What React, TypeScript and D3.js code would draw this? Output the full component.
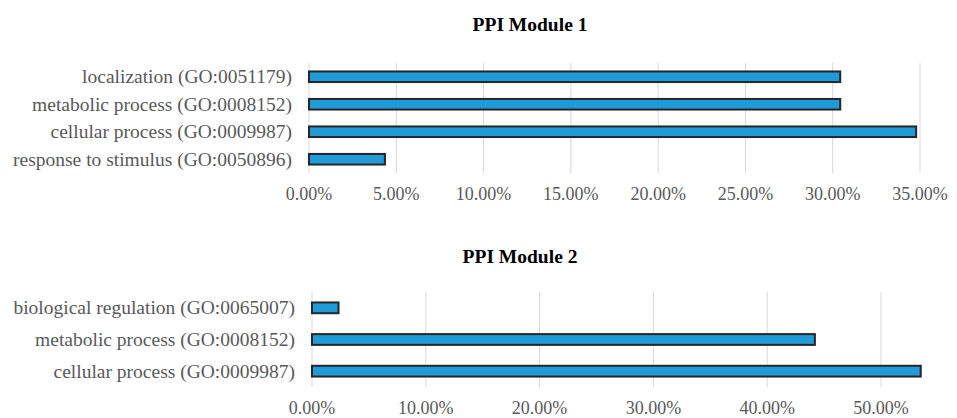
import React from "react";
import * as d3 from "d3";

// PPI Module 1
const cats1 = [
    "localization (GO:0051179)",
    "metabolic process (GO:0008152)",
    "cellular process (GO:0009987)",
    "response to stimulus (GO:0050896)",
];
const vals1 = [0.3043, 0.3043, 0.3478, 0.0435];
const ticks1 = [0, 0.05, 0.1, 0.15, 0.2, 0.25, 0.3, 0.35];

// PPI Module 2
const cats2 = [
    "biological regulation (GO:0065007)",
    "metabolic process (GO:0008152)",
    "cellular process (GO:0009987)",
];
const vals2 = [0.0233, 0.4419, 0.5349];
const ticks2 = [0, 0.1, 0.2, 0.3, 0.4, 0.5];

const width = 957;
const height = 418;
const font = "'Liberation Serif', 'Times New Roman', serif";
const labelColor = "#595959";

type PanelProps = {
    title: string;
    titleX: number;
    titleY: number;
    cats: string[];
    vals: number[];
    ticks: number[];
    x: d3.ScaleLinear<number, number>;
    top: number;
    bottom: number;
    padding: number;
    tickBaseline: number;
};

const Panel = (p: PanelProps): JSX.Element => {
    const y = d3
        .scaleBand<string>()
        .domain(p.cats)
        .range([p.top, p.bottom])
        .paddingInner(p.padding)
        .paddingOuter(p.padding / 2);
    const fmt = d3.format(".2%");
    return (
        <g>
            <text
                x={p.titleX}
                y={p.titleY}
                textAnchor="middle"
                dominantBaseline="central"
                fontFamily={font}
                fontWeight="bold"
                fontSize={19.5}
                fill="#000"
            >
                {p.title}
            </text>
            {/* gridlines */}
            {p.ticks.map((t) => (
                <line
                    key={t}
                    x1={p.x(t)}
                    x2={p.x(t)}
                    y1={p.top}
                    y2={p.bottom}
                    stroke="#d9d9d9"
                    strokeWidth={1}
                />
            ))}
            {/* bars */}
            {p.cats.map((c, i) => (
                <rect
                    key={c}
                    x={p.x(0)}
                    y={y(c)}
                    width={p.x(p.vals[i]) - p.x(0)}
                    height={y.bandwidth()}
                    fill="#1f9bd7"
                    stroke="#262626"
                    strokeWidth={2}
                />
            ))}
            {/* category labels */}
            {p.cats.map((c) => (
                <text
                    key={c}
                    x={p.x(0) - 17}
                    y={(y(c) as number) + y.bandwidth() / 2}
                    textAnchor="end"
                    dominantBaseline="central"
                    fontFamily={font}
                    fontSize={19.5}
                    fill={labelColor}
                >
                    {c}
                </text>
            ))}
            {/* tick labels */}
            {p.ticks.map((t) => (
                <text
                    key={t}
                    x={p.x(t)}
                    y={p.tickBaseline}
                    textAnchor="middle"
                    fontFamily={font}
                    fontSize={18}
                    fill={labelColor}
                >
                    {fmt(t)}
                </text>
            ))}
        </g>
    );
};

const App = (): JSX.Element => {
    const x1 = d3.scaleLinear().domain([0, 0.35]).range([309, 920]);
    const x2 = d3.scaleLinear().domain([0, 0.5]).range([312, 881]);
    return (
        <svg
            width={width}
            height={height}
            viewBox={`0 0 ${width} ${height}`}
            style={{ position: "absolute", left: 0, top: 0, background: "#fff" }}
        >
            <rect width={width} height={height} fill="#fff" />
            <Panel
                title="PPI Module 1"
                titleX={530}
                titleY={24}
                cats={cats1}
                vals={vals1}
                ticks={ticks1}
                x={x1}
                top={63}
                bottom={173}
                padding={0.615}
                tickBaseline={200}
            />
            <Panel
                title="PPI Module 2"
                titleX={520}
                titleY={256}
                cats={cats2}
                vals={vals2}
                ticks={ticks2}
                x={x2}
                top={292}
                bottom={387}
                padding={0.66}
                tickBaseline={414}
            />
        </svg>
    );
};

export default App;
